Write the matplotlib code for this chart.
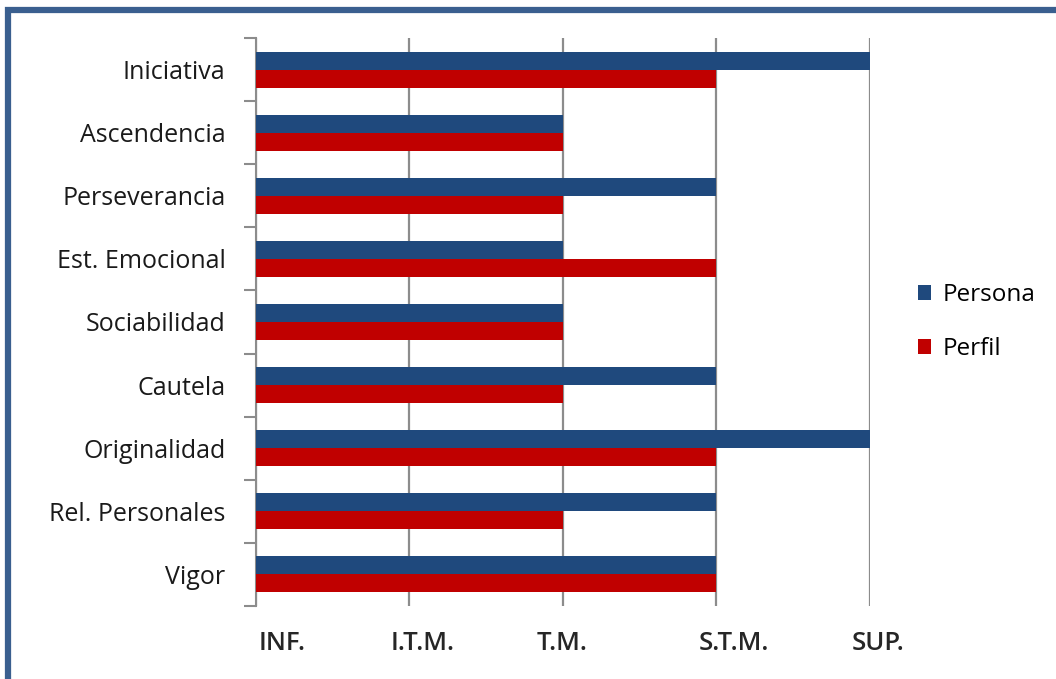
import matplotlib.pyplot as plt
from matplotlib.patches import Rectangle
from matplotlib.transforms import ScaledTranslation
import numpy as np

plt.rcParams['font.family'] = ['Open Sans', 'DejaVu Sans']

categorias = ["Iniciativa", "Ascendencia", "Perseverancia", "Est. Emocional",
              "Sociabilidad", "Cautela", "Originalidad", "Rel. Personales", "Vigor"]
persona = [4, 2, 3, 2, 2, 3, 4, 3, 3]
perfil = [3, 2, 2, 3, 2, 2, 3, 2, 3]
niveles = ["INF.", "I.T.M.", "T.M.", "S.T.M.", "SUP."]

fig = plt.figure(figsize=(10.56, 6.79), dpi=100)
ax = fig.add_axes([0.2424, 0.1075, 0.5814, 0.8366])

n = len(categorias)
y = np.arange(n)
h = 0.285
ax.barh(y - h / 2, persona, height=h, color="#1F497D", label="Persona", zorder=3)
ax.barh(y + h / 2, perfil, height=h, color="#C00000", label="Perfil", zorder=3)

ax.set_xlim(0, 4)
ax.set_ylim(n - 0.5, -0.5)
ax.set_xticks(range(len(niveles)))
ax.set_xticklabels(niveles, fontsize=18.5, fontweight='semibold', color="#262626")
ax.tick_params(axis='x', length=0, pad=18)
ax.xaxis.grid(True, color="#8c8c8c", linewidth=1.6, zorder=0)

# the labels under the axis sit a bit off their gridlines, as in the source
desplaz = [26, 13, -1, 17, 8]
for lab, dx in zip(ax.get_xticklabels(), desplaz):
    lab.set_transform(lab.get_transform() + ScaledTranslation(dx / 100, 0, fig.dpi_scale_trans))

# ticks at the boundaries, labels at the centres
ax.set_yticks(np.arange(n + 1) - 0.5)
ax.set_yticklabels([])
ax.tick_params(axis='y', which='major', length=9, width=1.5, color="#8c8c8c", direction='out')
ax.set_yticks(y, minor=True)
ax.set_yticklabels(categorias, minor=True, fontsize=18, color="#1a1a1a")
ax.tick_params(axis='y', which='minor', length=0, pad=22)

for s in ['top', 'right', 'bottom']:
    ax.spines[s].set_visible(False)
ax.spines['left'].set_color("#8c8c8c")
ax.spines['left'].set_linewidth(1.5)

ax.legend(loc='center left', bbox_to_anchor=(1.078, 0.5), frameon=False,
          fontsize=17.5, handlelength=0.55, handleheight=0.55, labelspacing=1.25,
          handletextpad=0.45, borderpad=0, borderaxespad=0)

fig.patches.append(Rectangle((0.0075, -0.05), 1.2, 1.035, transform=fig.transFigure,
                             fill=False, edgecolor="#3A5F8F", linewidth=4.5))

fig.savefig("out.png", dpi=100)
plt.close(fig)
